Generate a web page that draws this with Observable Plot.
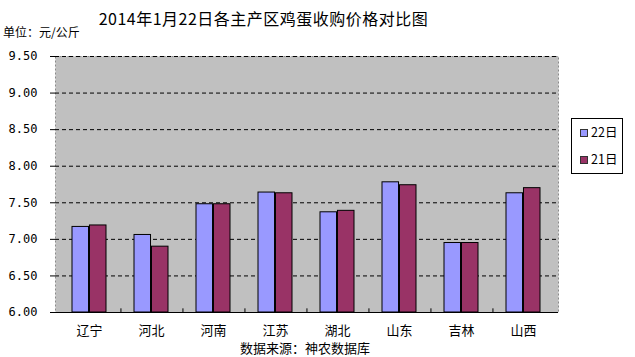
<!DOCTYPE html>
<html>
<head>
<meta charset="utf-8">
<script src="https://cdn.jsdelivr.net/npm/d3@7"></script>
<script src="https://cdn.jsdelivr.net/npm/@observablehq/plot@0.6"></script>
<style>
  html, body { margin: 0; padding: 0; background: #fff; }
  #wrap { position: relative; width: 635px; height: 357px; overflow: hidden; font-family: "Noto Sans CJK SC", sans-serif; color: #000; }
  .abs { position: absolute; white-space: nowrap; line-height: 1; }
  #title { left: 0; width: 527px; top: 10px; text-align: center; font-size: 16px; letter-spacing: 0.5px; }
  #unit { left: 3px; top: 26px; font-size: 12px; }
  #caption { left: 0; width: 610px; top: 341px; text-align: center; font-size: 13px; }
  #legend { left: 571px; top: 118px; width: 50px; height: 54px; border: 1px solid #000; background: #fff; }
  .sw { position: absolute; width: 6px; height: 6px; border: 1px solid #333; }
  .lt { position: absolute; font-size: 12.5px; line-height: 1; }
</style>
</head>
<body>
<div id="wrap"></div>
<script>
const regions = ["辽宁", "河北", "河南", "江苏", "湖北", "山东", "吉林", "山西"];
const seriesNames = ["22日", "21日"];
const values22 = [7.17, 7.06, 7.48, 7.64, 7.37, 7.78, 6.95, 7.63];
const values21 = [7.19, 6.90, 7.48, 7.63, 7.39, 7.74, 6.95, 7.70];
const colors = ["#9999ff", "#993366"];
const yTicks = [6.0, 6.5, 7.0, 7.5, 8.0, 8.5, 9.0, 9.5];
const titleText = "2014年1月22日各主产区鸡蛋收购价格对比图";
const unitText = "单位：元/公斤";
const captionText = "数据来源：神农数据库";

const data = [];
regions.forEach((r, i) => {
  data.push({region: r, series: seriesNames[0], value: values22[i]});
  data.push({region: r, series: seriesNames[1], value: values21[i]});
});

const W = 635, H = 357;
const mL = 55, mR = 77, mT = 56, mB = 45;
const padInner = 0.444;
const step = (W - mL - mR) / regions.length;
const bw = step * (1 - padInner);
const half = bw / 2;

const chart = Plot.plot({
  width: W,
  height: H,
  marginLeft: mL,
  marginRight: mR,
  marginTop: mT,
  marginBottom: mB,
  style: {background: "transparent", fontFamily: "'Noto Sans CJK SC', sans-serif", color: "#000"},
  x: {domain: regions, paddingInner: padInner, paddingOuter: padInner / 2, align: 0.5, label: null},
  y: {domain: [6, 9.5], label: null},
  color: {domain: seriesNames, range: colors},
  marks: [
    Plot.frame({fill: "#c0c0c0", stroke: "#8a8a8a", strokeDasharray: "2,2"}),
    Plot.ruleY(yTicks.filter(d => d > 6), {stroke: "#000", strokeDasharray: "4,3", strokeWidth: 1}),
    Plot.barY(data.filter(d => d.series === seriesNames[0]), {x: "region", y1: 6, y2: "value", fill: "series", stroke: "#000", strokeWidth: 1, insetRight: half}),
    Plot.barY(data.filter(d => d.series === seriesNames[1]), {x: "region", y1: 6, y2: "value", fill: "series", stroke: "#000", strokeWidth: 1, insetLeft: half}),
    Plot.ruleX(regions.slice(0, -1), {x: d => d, dx: step / 2, y1: 6, y2: 6.05, stroke: "#000"}),
    Plot.ruleY([6], {stroke: "#000", strokeWidth: 1}),
    Plot.axisY({ticks: yTicks, tickFormat: d3.format(".2f"), tickSize: 5, tickPadding: 13, fontSize: 12, fontFamily: "'DejaVu Sans Mono', monospace", line: true, stroke: "#000"}),
    Plot.axisX({tickSize: 0, tickPadding: 13, fontSize: 13})
  ]
});

const wrap = document.getElementById("wrap");
chart.style.position = "absolute";
chart.style.left = "0";
chart.style.top = "0";
wrap.appendChild(chart);

function addDiv(id, cls, text) {
  const d = document.createElement("div");
  if (id) d.id = id;
  d.className = cls;
  d.textContent = text;
  wrap.appendChild(d);
  return d;
}
addDiv("title", "abs", titleText);
addDiv("unit", "abs", unitText);
addDiv("caption", "abs", captionText);
const legend = addDiv("legend", "abs", "");
seriesNames.forEach((s, i) => {
  const sw = document.createElement("div");
  sw.className = "sw";
  sw.style.left = "8px";
  sw.style.top = (10 + i * 27) + "px";
  sw.style.background = colors[i];
  legend.appendChild(sw);
  const t = document.createElement("div");
  t.className = "lt";
  t.style.left = "19px";
  t.style.top = (7 + i * 27) + "px";
  t.textContent = s;
  legend.appendChild(t);
});
</script>
</body>
</html>
